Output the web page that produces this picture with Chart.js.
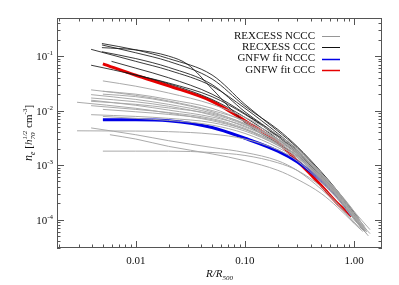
<!DOCTYPE html>
<html>
<head>
<meta charset="utf-8">
<script src="https://cdn.jsdelivr.net/npm/chart.js@4"></script>
<style>
  html, body { margin: 0; padding: 0; background: #fff; }
  #wrap { width: 399px; height: 285px; }
</style>
</head>
<body>
<div id="wrap"><canvas id="c" width="399" height="285"></canvas></div>
<script>
// ---------- data ----------
// axis ranges and ticks
const xRange = [0.0019, 1.8];
const yRange = [3e-5, 0.5];
const xMajor = [0.01, 0.1, 1];
const xTickLabels = ["0.01", "0.10", "1.00"];
const yMajor = [1e-4, 1e-3, 1e-2, 1e-1];
const yTickExp = ["-4", "-3", "-2", "-1"];

const legendLabels = ["REXCESS NCCC", "RECXESS CCC", "GNFW fit NCCC", "GNFW fit CCC"];

// REXCESS non cool core profiles  [R/R500, n_e]
const nccc = [
  [[0.005,0.035],[0.01,0.028],[0.02,0.021],[0.05,0.013],[0.1,0.0075],[0.2,0.0036],[0.3,0.002],[0.5,7e-4],[0.7,3.4e-4],[1.0,1.4e-4],[1.2,8e-5]],
  [[0.0039,0.024],[0.01,0.019],[0.02,0.015],[0.05,0.01],[0.1,0.0065],[0.2,0.0033],[0.3,0.0019],[0.5,6.6e-4],[0.7,3.2e-4],[1.0,1.3e-4],[1.3,6.5e-5]],
  [[0.005,0.0226],[0.01,0.02],[0.02,0.016],[0.05,0.011],[0.1,0.0062],[0.2,0.003],[0.3,0.0018],[0.5,6.2e-4],[0.7,3e-4],[1.0,1.15e-4],[1.4,5.5e-5]],
  [[0.0039,0.0196],[0.01,0.016],[0.02,0.013],[0.05,0.009],[0.1,0.0058],[0.2,0.0029],[0.3,0.0017],[0.5,6.4e-4],[0.7,3.1e-4],[1.0,1.25e-4],[1.25,7.5e-5]],
  [[0.0039,0.017],[0.01,0.0145],[0.02,0.012],[0.05,0.0082],[0.1,0.005],[0.2,0.0027],[0.3,0.0016],[0.5,6e-4],[0.7,2.9e-4],[1.0,1.15e-4],[1.3,6.5e-5]],
  [[0.0039,0.0148],[0.01,0.013],[0.02,0.0112],[0.05,0.0086],[0.1,0.0055],[0.2,0.003],[0.3,0.0018],[0.5,6.8e-4],[0.7,3.3e-4],[1.0,1.4e-4],[1.4,6.5e-5]],
  [[0.0029,0.0142],[0.01,0.011],[0.02,0.009],[0.05,0.0065],[0.1,0.0045],[0.2,0.0025],[0.3,0.0015],[0.5,5.8e-4],[0.7,2.8e-4],[1.0,1.1e-4],[1.2,7e-5]],
  [[0.0039,0.0123],[0.01,0.0105],[0.02,0.0092],[0.05,0.0071],[0.1,0.0047],[0.2,0.0024],[0.3,0.0014],[0.5,5.3e-4],[0.7,2.6e-4],[1.0,1.05e-4],[1.35,5e-5]],
  [[0.0039,0.0084],[0.01,0.0078],[0.02,0.0072],[0.05,0.006],[0.1,0.0042],[0.2,0.0023],[0.3,0.0014],[0.5,5.6e-4],[0.7,2.8e-4],[1.0,1.15e-4],[1.3,6e-5]],
  [[0.005,0.0078],[0.01,0.0072],[0.02,0.0066],[0.05,0.0054],[0.1,0.0038],[0.2,0.0021],[0.3,0.0013],[0.5,5e-4],[0.7,2.5e-4],[1.0,1e-4],[1.2,6.5e-5]],
  [[0.0029,0.00425],[0.01,0.0042],[0.02,0.0041],[0.05,0.0037],[0.1,0.003],[0.2,0.0019],[0.3,0.0012],[0.5,4.8e-4],[0.7,2.4e-4],[1.0,1e-4],[1.3,5.5e-5]],
  [[0.0039,0.0048],[0.01,0.0036],[0.02,0.0028],[0.05,0.0021],[0.1,0.0017],[0.2,0.0012],[0.3,8e-4],[0.5,3.6e-4],[0.7,1.9e-4],[1.0,8.5e-5]],
  [[0.0058,0.0036],[0.01,0.003],[0.02,0.0022],[0.05,0.0016],[0.1,0.0012],[0.2,8e-4],[0.3,5.5e-4],[0.5,3e-4],[0.7,1.7e-4],[1.0,8.5e-5],[1.15,6.5e-5]],
  [[0.005,0.0018],[0.01,0.0018],[0.02,0.0018],[0.05,0.0017],[0.1,0.0015],[0.2,0.0011],[0.3,8e-4],[0.5,4e-4],[0.7,2e-4],[1.0,9e-5],[1.2,6e-5]],
  [[0.005,0.02],[0.01,0.018],[0.02,0.0145],[0.05,0.0095],[0.1,0.0056],[0.2,0.0028],[0.3,0.0016],[0.5,5.9e-4],[0.7,2.9e-4],[1.0,1.2e-4],[1.3,6e-5]],
  [[0.005,0.0105],[0.01,0.0095],[0.02,0.0085],[0.05,0.0068],[0.1,0.0045],[0.2,0.0023],[0.3,0.0014],[0.5,5.4e-4],[0.7,2.7e-4],[1.0,1.1e-4],[1.2,7e-5]],
  [[0.0039,0.0155],[0.01,0.0125],[0.02,0.0102],[0.05,0.0076],[0.1,0.0052],[0.2,0.0026],[0.3,0.0015],[0.5,5.6e-4],[0.7,2.7e-4],[1.0,1.1e-4],[1.25,6.5e-5]]
];

// REXCESS cool core profiles
const ccc = [
  [[0.0049,0.17],[0.01,0.13],[0.02,0.09],[0.05,0.045],[0.1,0.013],[0.2,0.0042],[0.3,0.0021],[0.5,7e-4],[0.7,3.2e-4],[1.0,1.3e-4],[1.1,1e-4]],
  [[0.0049,0.143],[0.01,0.13],[0.02,0.1],[0.03,0.07],[0.05,0.025],[0.1,0.006],[0.2,0.0025],[0.3,0.0015],[0.5,5.8e-4],[0.7,2.8e-4],[1.0,1.1e-4],[1.2,6.5e-5]],
  [[0.0039,0.133],[0.01,0.08],[0.02,0.055],[0.05,0.028],[0.1,0.011],[0.2,0.0038],[0.3,0.0019],[0.5,6.5e-4],[0.7,3e-4],[1.0,1.2e-4],[1.15,8e-5]],
  [[0.0039,0.068],[0.01,0.045],[0.02,0.031],[0.05,0.016],[0.1,0.0075],[0.2,0.003],[0.3,0.0016],[0.5,5.5e-4],[0.7,2.6e-4],[1.0,1.05e-4],[1.2,6.5e-5]],
  [[0.0049,0.16],[0.01,0.115],[0.02,0.08],[0.05,0.038],[0.1,0.012],[0.2,0.0045],[0.3,0.0022],[0.5,7.5e-4],[0.7,3.4e-4],[1.0,1.35e-4],[1.1,1.05e-4]],
  [[0.0049,0.12],[0.01,0.09],[0.02,0.062],[0.05,0.03],[0.1,0.0095],[0.2,0.0035],[0.3,0.0018],[0.5,6.2e-4],[0.7,2.9e-4],[1.0,1.15e-4],[1.25,6e-5]],
  [[0.008,0.05],[0.02,0.032],[0.05,0.018],[0.1,0.0085],[0.2,0.0033],[0.3,0.0017],[0.5,6e-4],[0.7,2.8e-4],[1.0,1.1e-4],[1.2,6.5e-5]],
  [[0.006,0.08],[0.01,0.06],[0.02,0.04],[0.05,0.02],[0.1,0.0088],[0.2,0.0034],[0.3,0.0018],[0.5,6e-4],[0.7,2.7e-4],[1.0,1.1e-4],[1.15,7.5e-5]]
];

// GNFW fits
const fitNccc = [[0.005,0.0068],[0.01,0.0068],[0.02,0.0065],[0.05,0.0049],[0.1,0.0031],[0.2,0.0018],[0.3,0.00115],[0.5,5.2e-4],[0.7,2.7e-4],[0.95,1.2e-4]];
const fitCcc = [[0.005,0.072],[0.01,0.0445],[0.02,0.0285],[0.05,0.0148],[0.1,0.0065],[0.2,0.0026],[0.3,0.0012],[0.5,4.2e-4],[0.7,2.0e-4],[0.946,1.15e-4]];

// ---------- build datasets ----------
const toXY = arr => arr.map(p => ({ x: p[0], y: p[1] }));

function lineSet(arr, color, width) {
  return {
    data: toXY(arr),
    borderColor: color,
    borderWidth: width,
    pointRadius: 0,
    fill: false,
    cubicInterpolationMode: "monotone"
  };
}

const datasets = [];
nccc.forEach(c => datasets.push(lineSet(c, "rgba(165,165,165,0.95)", 1)));
ccc.forEach(c => datasets.push(lineSet(c, "rgba(25,25,25,0.85)", 1)));
datasets.push(lineSet(fitNccc, "#0000e6", 3));
datasets.push(lineSet(fitCcc, "#e60000", 3));

const serif = '"Liberation Serif", "DejaVu Serif", serif';

// draws rich text runs left to right, from x,y baseline
function drawRuns(ctx, runs, x, y) {
  runs.forEach(r => {
    ctx.font = r.font;
    if (r.stack) {
      ctx.fillText(r.stack[0], x, y + r.stack[2]);
      const w1 = ctx.measureText(r.stack[0]).width;
      ctx.fillText(r.stack[1], x, y + r.stack[3]);
      const w2 = ctx.measureText(r.stack[1]).width;
      x += Math.max(w1, w2);
    } else {
      ctx.fillText(r.t, x, y + (r.dy || 0));
      x += ctx.measureText(r.t).width;
    }
  });
  return x;
}
function runsWidth(ctx, runs) {
  let w = 0;
  runs.forEach(r => {
    ctx.font = r.font;
    if (r.stack) w += Math.max(ctx.measureText(r.stack[0]).width, ctx.measureText(r.stack[1]).width);
    else w += ctx.measureText(r.t).width;
  });
  return w;
}

// ---------- frame, ticks, labels, legend ----------
const framePlugin = {
  id: "frame",
  afterDraw(chart) {
    const { ctx, chartArea: a, scales } = chart;
    const xs = scales.x, ys = scales.y;
    ctx.save();
    ctx.strokeStyle = "#555";
    ctx.lineWidth = 1;
    ctx.strokeRect(a.left + 0.5, a.top + 0.5, a.right - a.left - 1, a.bottom - a.top - 1);

    ctx.beginPath();
    // x ticks (bottom and top)
    for (let k = -3; k <= 0; k++) {
      for (let m = 1; m <= 9; m++) {
        const v = m * Math.pow(10, k);
        if (v < xRange[0] || v > xRange[1]) continue;
        const px = Math.round(xs.getPixelForValue(v)) + 0.5;
        const len = m === 1 ? 7 : 3.5;
        ctx.moveTo(px, a.bottom); ctx.lineTo(px, a.bottom - len);
        ctx.moveTo(px, a.top); ctx.lineTo(px, a.top + len);
      }
    }
    // y ticks (left and right)
    for (let k = -5; k <= -1; k++) {
      for (let m = 1; m <= 9; m++) {
        const v = m * Math.pow(10, k);
        if (v < yRange[0] || v > yRange[1]) continue;
        const py = Math.round(ys.getPixelForValue(v)) + 0.5;
        const len = m === 1 ? 7 : 3.5;
        ctx.moveTo(a.left, py); ctx.lineTo(a.left + len, py);
        ctx.moveTo(a.right, py); ctx.lineTo(a.right - len, py);
      }
    }
    ctx.stroke();

    ctx.fillStyle = "#111";
    // x tick labels
    ctx.font = "11px " + serif;
    ctx.textAlign = "center";
    ctx.textBaseline = "alphabetic";
    xMajor.forEach((v, i) => {
      ctx.fillText(xTickLabels[i], xs.getPixelForValue(v), a.bottom + 16);
    });
    // y tick labels 10^k
    ctx.textAlign = "left";
    yMajor.forEach((v, i) => {
      const py = ys.getPixelForValue(v);
      const runs = [
        { t: "10", font: "11px " + serif, dy: 0 },
        { t: yTickExp[i], font: "7px " + serif, dy: -5 }
      ];
      const w = runsWidth(ctx, runs);
      drawRuns(ctx, runs, a.left - 4 - w, py + 4);
    });

    // x title
    const xt = [
      { t: "R/R", font: "italic 11px " + serif },
      { t: "500", font: "italic 7px " + serif, dy: 3 }
    ];
    const xw = runsWidth(ctx, xt);
    drawRuns(ctx, xt, (a.left + a.right) / 2 - xw / 2, 277);

    // y title, rotated
    const yt = [
      { t: "n", font: "italic 12px " + serif },
      { t: "e", font: "italic 8px " + serif, dy: 3 },
      { t: " [", font: "11px " + serif },
      { t: "h", font: "italic 11px " + serif },
      { stack: ["1/2", "70", -5, 3], font: "italic 7px " + serif },
      { t: " cm", font: "11px " + serif },
      { t: "-3", font: "7px " + serif, dy: -5 },
      { t: "]", font: "11px " + serif }
    ];
    const yw = runsWidth(ctx, yt);
    ctx.save();
    ctx.translate(32, (a.top + a.bottom) / 2);
    ctx.rotate(-Math.PI / 2);
    drawRuns(ctx, yt, -yw / 2, 0);
    ctx.restore();

    // legend
    const legColors = ["rgb(150,150,150)", "#111", "#0000e6", "#e60000"];
    ctx.font = "11px " + serif;
    ctx.textAlign = "right";
    ctx.textBaseline = "middle";
    legendLabels.forEach((t, i) => {
      const ly = 36 + i * 11.3;
      ctx.fillStyle = "#111";
      ctx.fillText(t, 315, ly);
      ctx.strokeStyle = legColors[i];
      ctx.lineWidth = i < 2 ? 1 : 1.5;
      ctx.beginPath();
      ctx.moveTo(322, Math.round(ly) + 0.5);
      ctx.lineTo(340, Math.round(ly) + 0.5);
      ctx.stroke();
    });
    ctx.restore();
  }
};

new Chart(document.getElementById("c"), {
  type: "line",
  data: { datasets: datasets },
  options: {
    responsive: false,
    animation: false,
    events: [],
    layout: { padding: { top: 18, right: 17, left: 0, bottom: 0 } },
    plugins: { legend: { display: false }, tooltip: { enabled: false } },
    scales: {
      x: {
        type: "logarithmic",
        min: xRange[0], max: xRange[1],
        grid: { display: false },
        border: { display: false },
        ticks: { display: false },
        afterFit: s => { s.height = 37; }
      },
      y: {
        type: "logarithmic",
        min: yRange[0], max: yRange[1],
        grid: { display: false },
        border: { display: false },
        ticks: { display: false },
        afterFit: s => { s.width = 57; }
      }
    }
  },
  plugins: [framePlugin]
});
</script>
</body>
</html>
